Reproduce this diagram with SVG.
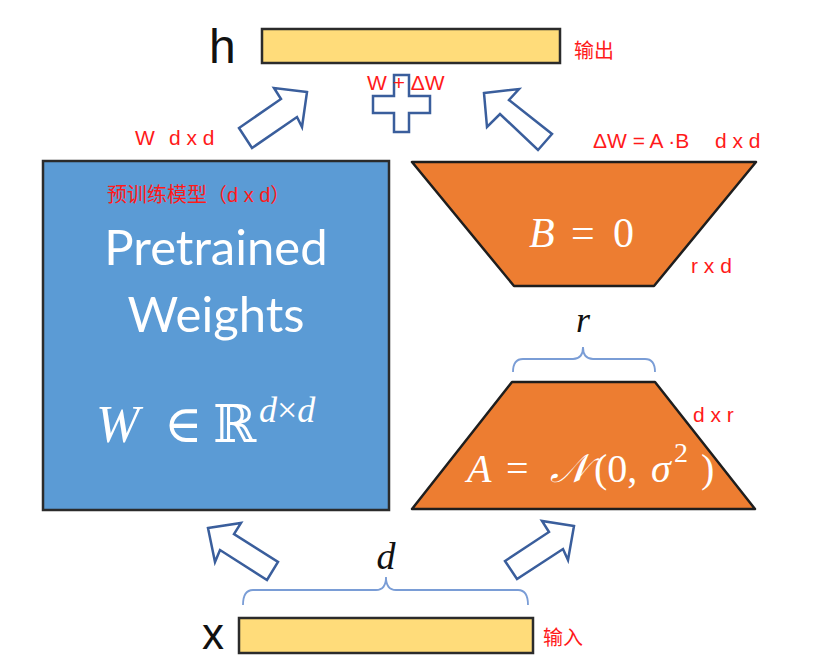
<svg xmlns="http://www.w3.org/2000/svg" width="827" height="659" viewBox="0 0 827 659">
<style>
.red{fill:#FF1A1A;font-family:"Liberation Sans","Noto Sans CJK SC",sans-serif;font-size:21px}
.cjk{font-size:20px}
.arrow{fill:#FFFFFF;stroke:#3A5E9C;stroke-width:2.5;stroke-linejoin:miter}
.bar{fill:#FFDC7A;stroke:#2B2B2B;stroke-width:2.5}
.trap{fill:#ED7D31;stroke:#1E1E1E;stroke-width:2.5;stroke-linejoin:round}
.brace{fill:none;stroke:#7A9DD6;stroke-width:1.8}
.math{font-family:"Liberation Serif","DejaVu Serif",serif}
.big{font-family:"Liberation Sans","DejaVu Sans",sans-serif;fill:#111}
</style>
<rect width="827" height="659" fill="#FFFFFF"/>

<g id="output-h">
  <rect class="bar" x="262" y="29" width="298" height="34"/>
  <text class="big" x="209" y="63" font-size="48">h</text>
  <text class="red cjk" x="574" y="58">输出</text>
</g>

<g id="pretrained">
  <rect x="43" y="161" width="346" height="349" fill="#5B9BD5" stroke="#2B2B2B" stroke-width="2.5"/>
  <text class="red cjk" x="107" y="202">预训练模型（d x d）</text>
  <text x="216" y="265" text-anchor="middle" font-family="Lato,'Open Sans',sans-serif" font-size="49" fill="#FFFFFF">Pretrained</text>
  <text x="216" y="332" text-anchor="middle" font-family="Lato,'Open Sans',sans-serif" font-size="49" fill="#FFFFFF">Weights</text>
  <text class="math" fill="#FFFFFF" y="442" font-size="52"><tspan x="96" font-style="italic">W</tspan><tspan x="164">∈</tspan><tspan x="213">ℝ</tspan></text>
  <text class="math" fill="#FFFFFF" x="259" y="422" font-size="36" font-style="italic">d<tspan font-style="normal">×</tspan>d</text>
</g>

<g id="matrix-B">
  <polygon class="trap" points="412,162 756,162 654,286 514,286"/>
  <text class="math" fill="#FFFFFF" y="247" font-size="42"><tspan x="529" font-style="italic">B</tspan><tspan x="571">=</tspan><tspan x="613">0</tspan></text>
  <text class="red" x="593" y="148">ΔW = A ·B</text>
  <text class="red" x="715" y="148">d x d</text>
  <text class="red" x="691" y="273">r x d</text>
</g>

<g id="matrix-A">
  <polygon class="trap" points="512,382 655,382 755,509 412,509"/>
  <text class="math" fill="#FFFFFF" y="482" font-size="40"><tspan x="467" font-style="italic">A</tspan><tspan x="506">=</tspan><tspan x="550" font-style="italic">𝒩</tspan><tspan x="594">(0,</tspan><tspan x="651" font-style="italic">σ</tspan><tspan x="701">)</tspan></text>
  <text class="math" fill="#FFFFFF" x="674" y="462" font-size="28">2</text>
  <text class="red" x="693" y="422">d x r</text>
  <path class="brace" d="M513,372 Q513,359 523,359 H573 Q583,359 583,347 Q583,359 593,359 H645 Q655,359 655,372"/>
  <text class="math" x="583" y="332" font-size="36" font-style="italic" text-anchor="middle" fill="#111">r</text>
</g>

<g id="input-x">
  <rect class="bar" x="239" y="618" width="294" height="35"/>
  <text class="big" x="202" y="649" font-size="44">x</text>
  <text class="red cjk" x="543" y="645">输入</text>
  <path class="brace" d="M243,605 Q243,590 253,590 H376 Q386,590 386,577 Q386,590 396,590 H518 Q528,590 528,605"/>
  <text class="math" x="386" y="569" font-size="38" font-style="italic" text-anchor="middle" fill="#111">d</text>
</g>

<g id="sum">
  <polygon class="arrow" points="394,75 409,75 409,96 430,96 430,113 409,113 409,132 394,132 394,113 373,113 373,96 394,96"/>
  <text class="red" x="367" y="90">W + ΔW</text>
</g>

<g id="labels">
  <text class="red" x="135" y="145">W</text>
  <text class="red" x="169" y="145">d x d</text>
</g>

<g id="connectors">
  <polygon class="arrow" points="307,92 274,88 281,99 239,128 252,148 297,117 302,127"/>
  <polygon class="arrow" points="484,93 519,89 509,100 552,134 538,150 500,114 487,127"/>
  <polygon class="arrow" points="208,528 241,523 234,534 278,562 267,580 220,550 215,562"/>
  <polygon class="arrow" points="574,526 542,521 549,532 505,561 517,579 563,549 568,560"/>
</g>
</svg>
